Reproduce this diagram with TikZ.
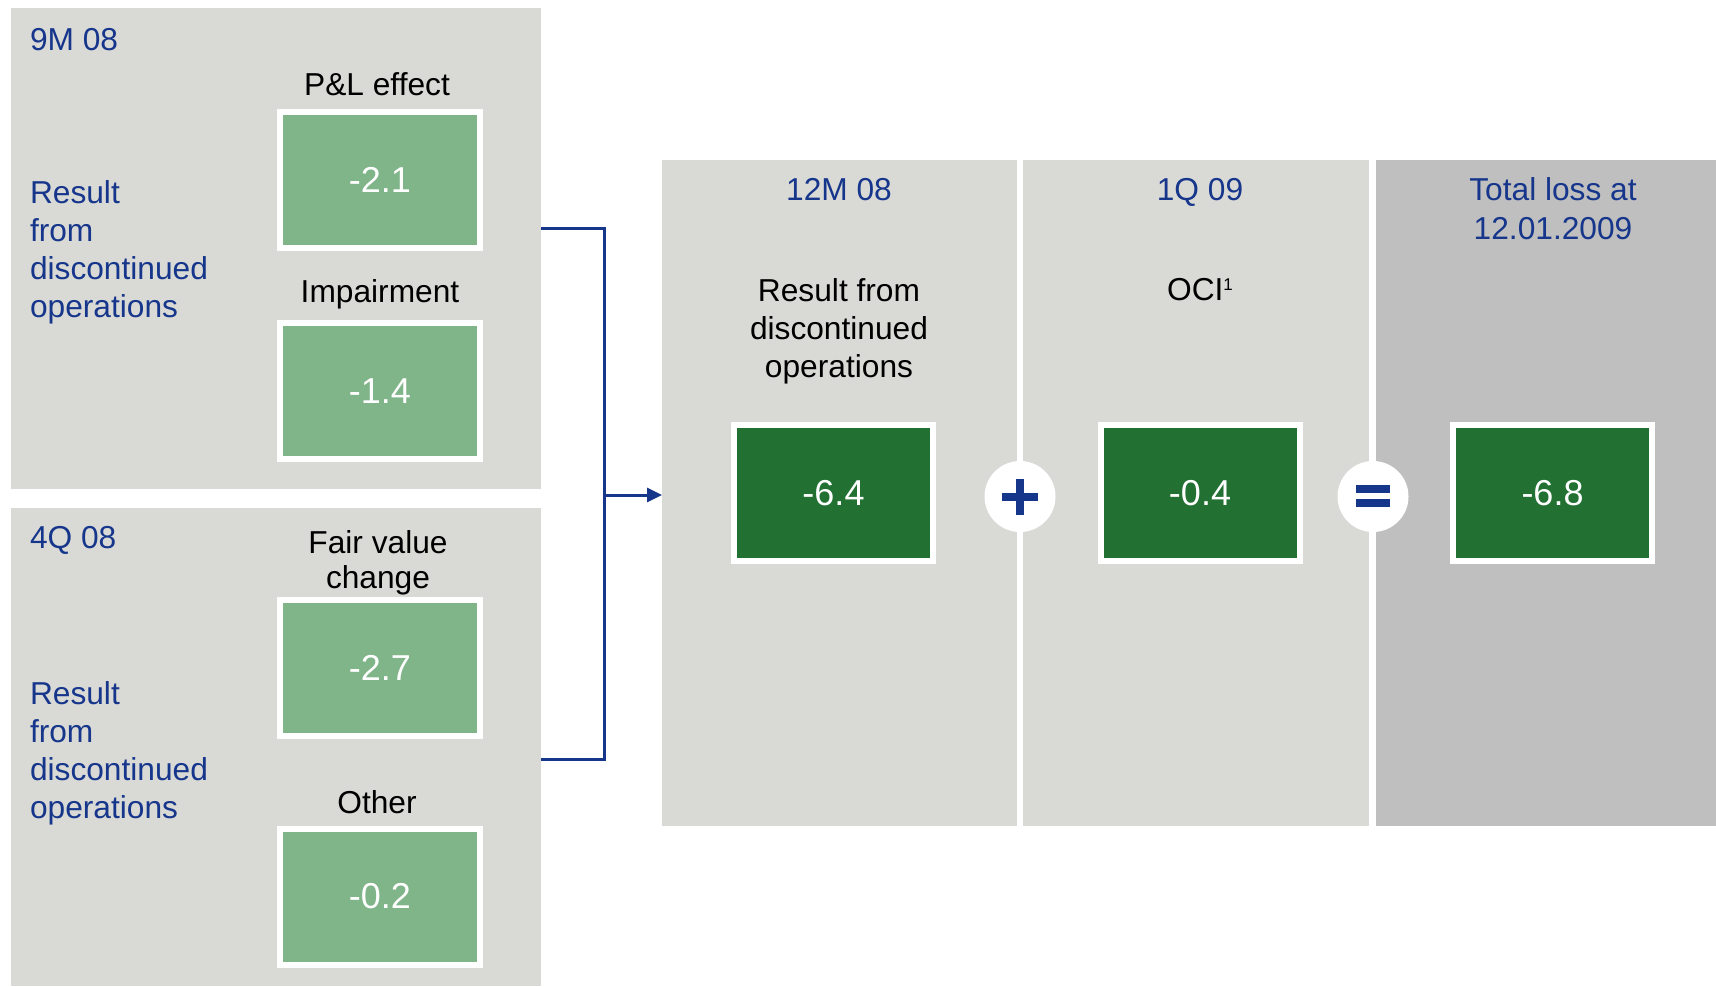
\documentclass[tikz,border=0pt]{standalone}
\usepackage{fontspec}
\setmainfont{Liberation Sans}
\usetikzlibrary{arrows.meta}
\definecolor{panel}{RGB}{217,217,213}
\definecolor{panelD}{RGB}{191,191,191}
\definecolor{lgreen}{RGB}{128,180,137}
\definecolor{dgreen}{RGB}{34,113,50}
\definecolor{navy}{RGB}{22,54,140}
\tikzset{
  panelbox/.style={fill=panel, draw=none, inner sep=0, outer sep=0, anchor=north west},
  lbl/.style={font=\fontsize{31.7}{38}\selectfont, inner sep=0, outer sep=0},
  bluelbl/.style={lbl, text=navy},
  blacklbl/.style={lbl, text=black},
  sbox/.style={fill=lgreen, draw=white, line width=6pt, minimum width=200, minimum height=136, inner sep=0,
    text=white, font=\fontsize{36}{42}\selectfont},
  bbox/.style={fill=dgreen, draw=white, line width=6pt, minimum width=199, minimum height=136, inner sep=0,
    text=white, font=\fontsize{36}{42}\selectfont},
  opcircle/.style={circle, fill=white, draw=none, minimum size=71, inner sep=0},
  conn/.style={draw=navy, line width=3pt},
}
\begin{document}
\begin{tikzpicture}[x=1pt,y=-1pt]
\useasboundingbox (0,0) rectangle (1716,986);
\fill[white] (0,0) rectangle (1716,986);

% panels
\node[panelbox, minimum width=530, minimum height=481] (p1) at (11,8) {};
\node[panelbox, minimum width=530, minimum height=478] (p2) at (11,508) {};
\node[panelbox, minimum width=355, minimum height=666] (m1) at (662,160) {};
\node[panelbox, minimum width=346, minimum height=666] (m2) at (1023,160) {};
\node[panelbox, fill=panelD, minimum width=340, minimum height=666] (m3) at (1376,160) {};

% upper left panel (multi-line nodes: base = baseline of last line)
\node[bluelbl, anchor=base west] (t9m) at (30,50) {9M 08};
\node[bluelbl, anchor=base west, align=left] (r1) at (30,317) {Result\\from\\discontinued\\operations};
\node[blacklbl, anchor=base] (tpl) at (377,95) {P\&L effect};
\node[sbox] (b1) at (380,180) {-2.1};
\node[blacklbl, anchor=base] (timp) at (380,302) {Impairment};
\node[sbox] (b2) at (380,391) {-1.4};

% lower left panel
\node[bluelbl, anchor=base west] (t4q) at (30,548) {4Q 08};
\node[bluelbl, anchor=base west, align=left] (r2) at (30,818) {Result\\from\\discontinued\\operations};
\node[blacklbl, anchor=base, align=center, font=\fontsize{31.7}{35}\selectfont] (tfv) at (378,588) {Fair value\\change};
\node[sbox] (b3) at (380,667.5) {-2.7};
\node[blacklbl, anchor=base] (toth) at (377,813) {Other};
\node[sbox] (b4) at (380,896.5) {-0.2};

% connector
\coordinate (j1) at (541,228);
\coordinate (j2) at (541,759);
\coordinate (jm) at (604,495);
\draw[conn] (j1) -| (jm) |- (j2);
\draw[conn, -{Triangle[length=15pt,width=14pt]}] (jm) -- (m1.west |- jm);

% middle panels
\node[bluelbl, anchor=base] (t12) at (839,200) {12M 08};
\node[blacklbl, anchor=base, align=center] (trd) at (839,377) {Result from\\discontinued\\operations};
\node[bbox] (g1) at (833.5,493) {-6.4};

\node[bluelbl, anchor=base] (t1q) at (1200,200) {1Q 09};
\node[blacklbl, anchor=base] (toci) at (1200,300) {OCI\raisebox{10pt}{\fontsize{17}{18}\selectfont 1}};
\node[bbox] (g2) at (1200,493) {-0.4};

\node[bluelbl, anchor=base, align=center, font=\fontsize{31.7}{39}\selectfont] (ttl) at (1553,239) {Total loss at\\12.01.2009};
\node[bbox] (g3) at (1552.5,493) {-6.8};

% operators
\node[opcircle] (plus) at (1020,496.5) {};
\fill[navy] (plus.center) ++(-18,-4) rectangle ++(36,8);
\fill[navy] (plus.center) ++(-4,-18) rectangle ++(8,36);
\node[opcircle] (eq) at (1373,496.5) {};
\fill[navy] (eq.center) ++(-17,-12) rectangle ++(34,8);
\fill[navy] (eq.center) ++(-17,2) rectangle ++(34,8);
\end{tikzpicture}
\end{document}
